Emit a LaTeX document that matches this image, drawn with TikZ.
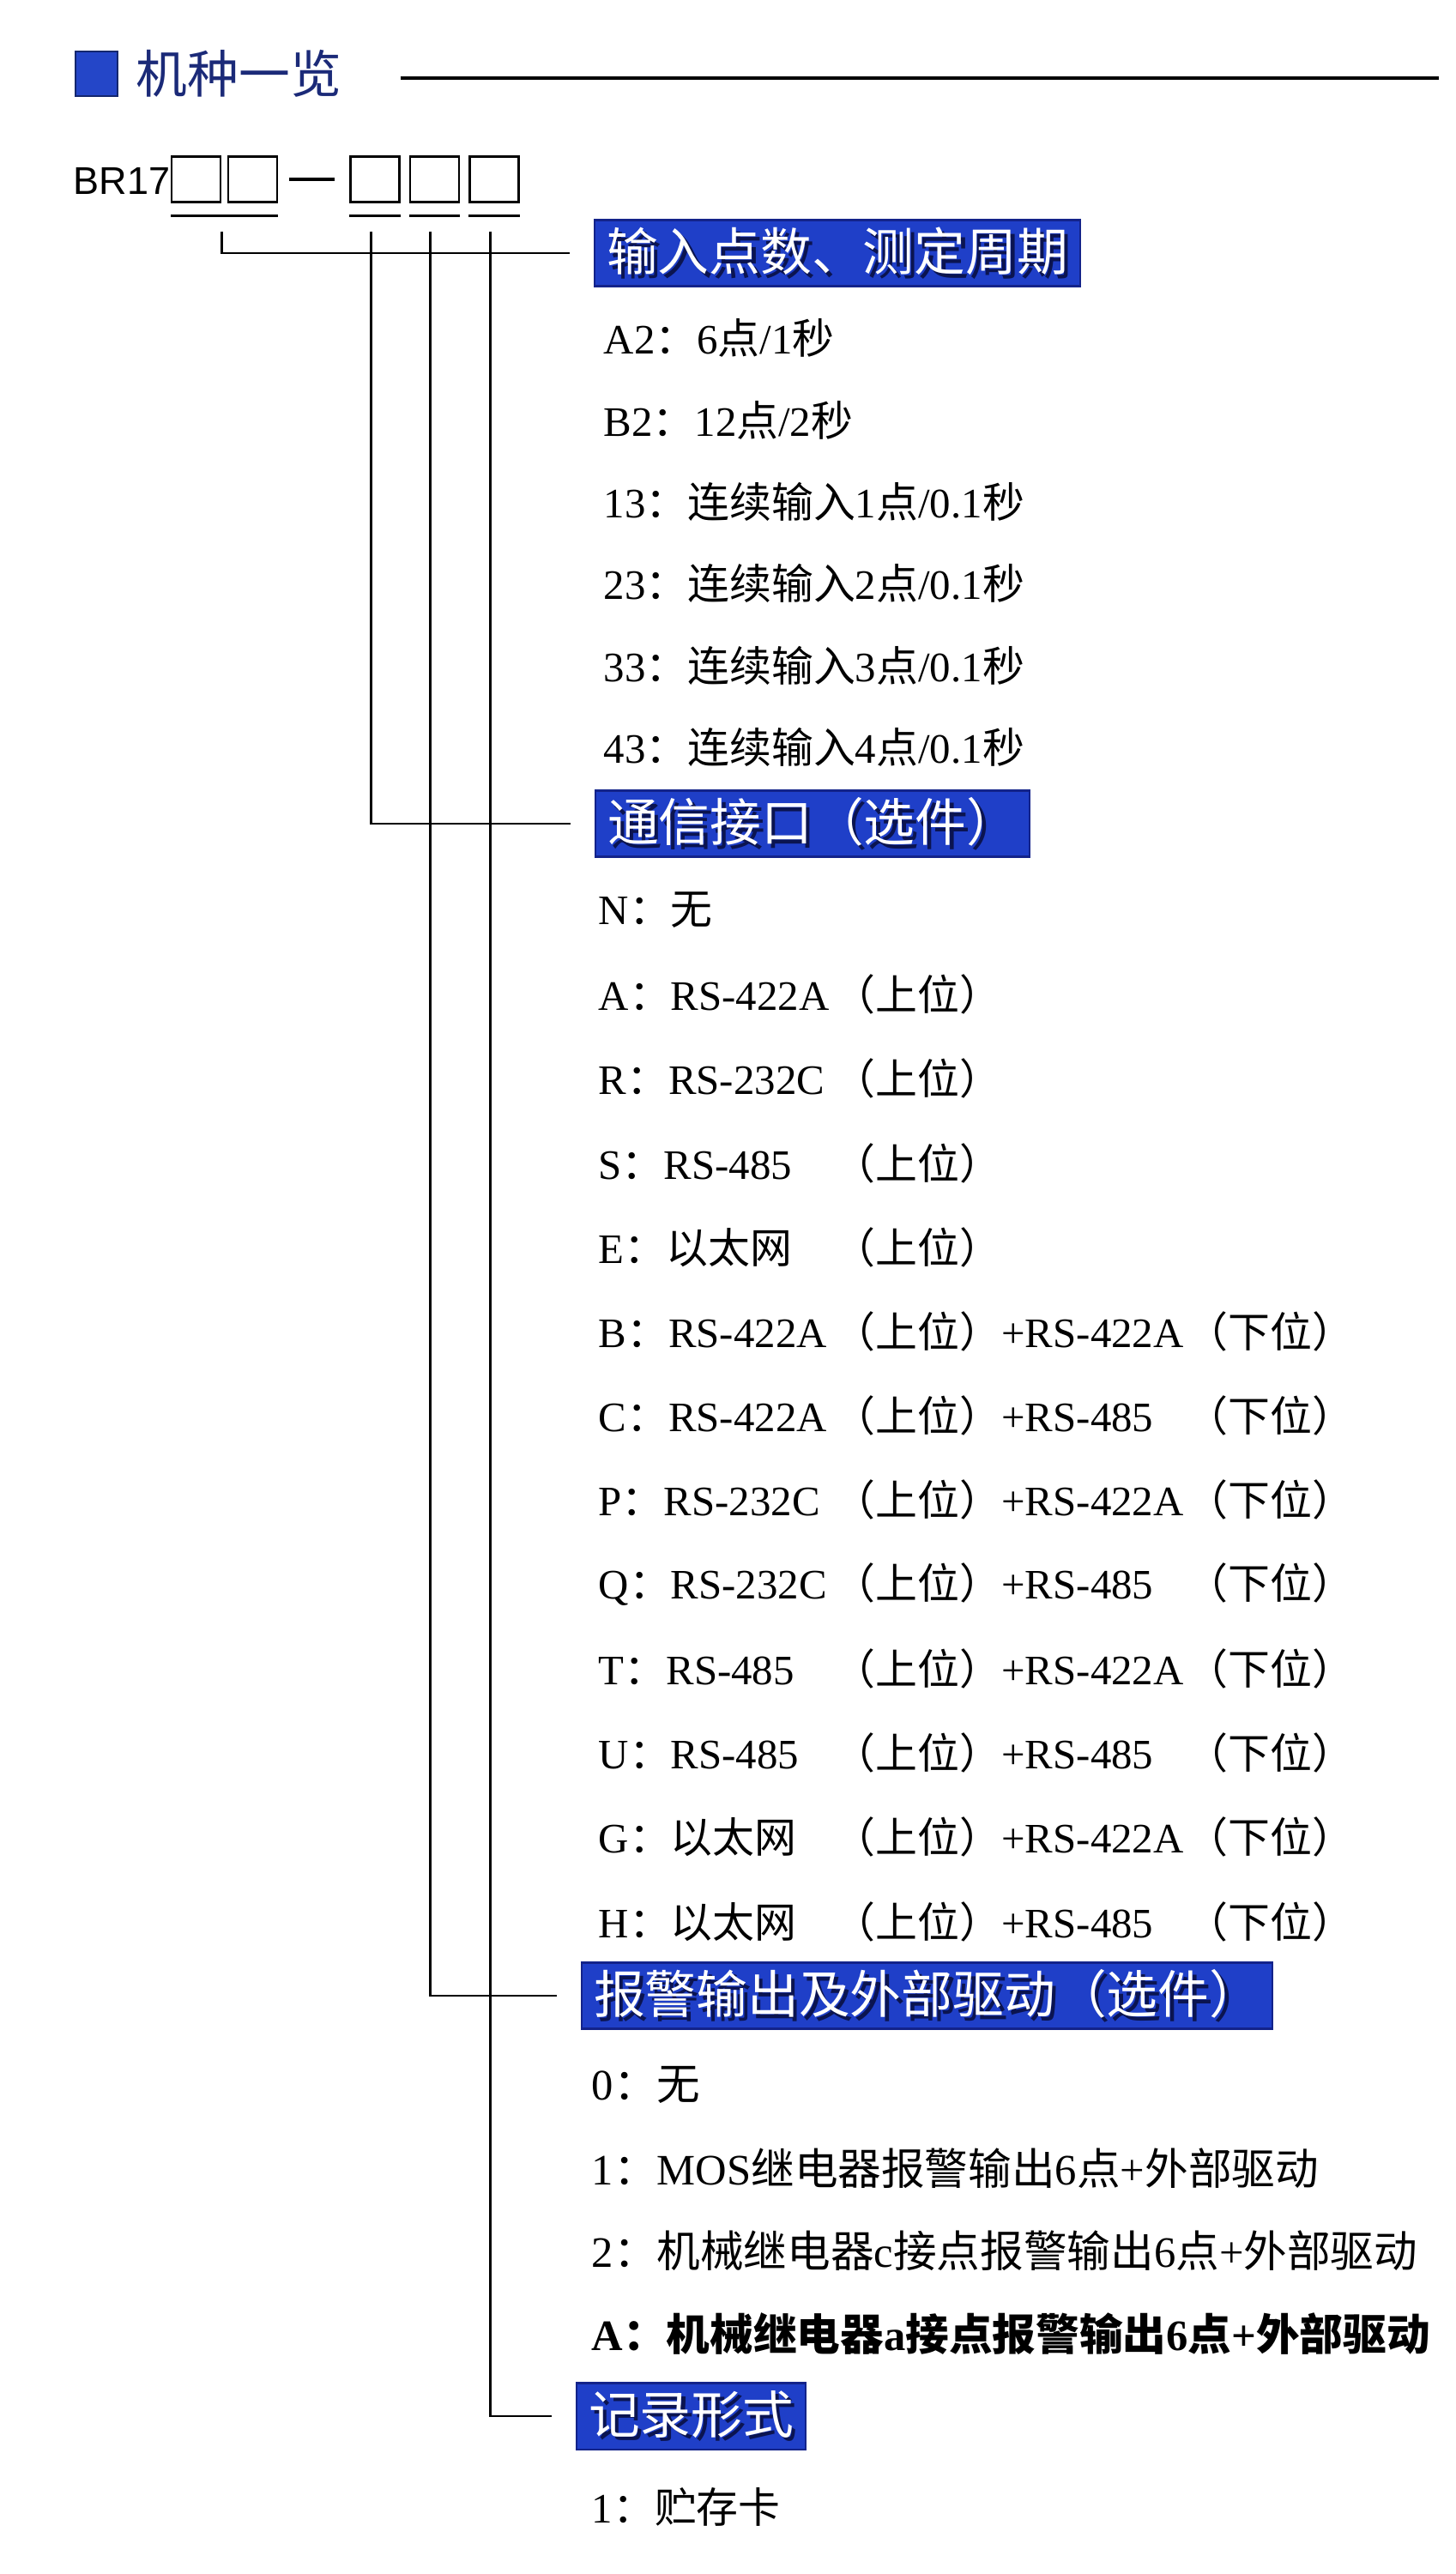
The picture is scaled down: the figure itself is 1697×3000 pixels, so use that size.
\documentclass[tikz,border=0pt]{standalone}
\usepackage{fontspec}
\setmainfont{Liberation Serif}
\setsansfont{Liberation Sans}
\newfontfamily\cjk{Noto Sans CJK SC}
\usepackage{tikz}
\usetikzlibrary{positioning, calc}
\definecolor{HdrBlue}{HTML}{1F3FC8}
\definecolor{HdrEdge}{HTML}{13238A}
\definecolor{HdrShade}{HTML}{0B1450}
\definecolor{MarkBlue}{HTML}{2446C8}
\definecolor{TitleNavy}{HTML}{1B2A78}
\newcommand{\en}[1]{{\rmfamily #1}}
\newcommand{\shadowed}[1]{\makebox[0pt][l]{\kern1.3pt\raisebox{-1.3pt}{\textcolor{HdrShade}{#1}}}#1}
\newcommand{\upcol}[1]{\makebox[2.74cm][l]{#1}}
\newcommand{\lowcol}[1]{\makebox[2.15cm][l]{#1}}
\tikzset{
  opt text/.style={anchor=west, inner sep=0pt,
                   font=\cjk\fontsize{13.9pt}{16pt}\selectfont},
  wide text/.style={opt text, font=\cjk\fontsize{14.4pt}{16pt}\selectfont},
  hdr box/.style={anchor=west, fill=HdrBlue, draw=HdrEdge, line width=0.6pt,
                  text=white, inner xsep=0.14cm, inner ysep=0pt,
                  minimum height=0.77cm, font=\cjk\fontsize{17pt}{19pt}\selectfont},
  slot box/.style={draw, line width=0.7pt, minimum width=0.57cm,
                   minimum height=0.53cm, inner sep=0pt},
  dash bar/.style={fill, minimum width=0.53cm, minimum height=0.03cm, inner sep=0pt},
  title mark/.style={anchor=north west, fill=MarkBlue, draw=MarkBlue!55!black,
                     line width=0.6pt, minimum width=0.49cm, minimum height=0.52cm,
                     inner sep=0pt},
  tie/.style={line width=0.8pt},
}

\begin{document}
\begin{tikzpicture}[x=0.01cm, y=-0.01cm]
  \useasboundingbox (0,0) rectangle (1697,3000);
  % title
  \node[title mark] (mark) at (87,59) {};
  \node[anchor=west, inner sep=0pt, text=TitleNavy,
        font=\cjk\fontsize{17pt}{19pt}\selectfont, right=0.2cm of mark] (title) {机种一览};
  \draw[tie, line width=0.9pt] ([xshift=0.68cm, yshift=-0.05cm]title.east) -- ++(1210,0);

  % model code
  \node[anchor=west, inner sep=0pt, font=\sffamily\fontsize{12.8pt}{14pt}\selectfont]
    (br) at (85,211) {BR17};
  \node[slot box, anchor=west] (b1) at (199,209) {};
  \node[slot box, right=0.06cm of b1] (b2) {};
  \node[dash bar, right=0.12cm of b2] (sep) {};
  \node[slot box, right=0.17cm of sep] (b3) {};
  \node[slot box, right=0.1cm of b3] (b4) {};
  \node[slot box, right=0.1cm of b4] (b5) {};
  \draw[tie] ([yshift=-0.15cm]b1.south west) -- ([yshift=-0.15cm]b2.south east);
  \foreach \b in {b3,b4,b5}
    \draw[tie] ([yshift=-0.15cm]\b.south west) -- ([yshift=-0.15cm]\b.south east);
  \coordinate (u1) at ($(b1.south east)!0.5!(b2.south west)+(-3,33)$);
  \foreach \b [count=\i from 2] in {b3,b4,b5}
    \coordinate (u\i) at ($(\b.south)+(-5,33)$);

  % headers
  \node[hdr box] (h1) at (692,295) {\shadowed{输入点数、测定周期}};
  \node[hdr box] (h2) at (693,960) {\shadowed{通信接口（选件）}};
  \node[hdr box] (h3) at (677,2326) {\shadowed{报警输出及外部驱动（选件）}};
  \node[hdr box] (h4) at (671,2816) {\shadowed{记录形式}};
  \foreach \i in {1,...,4}
    \draw[tie] (u\i) |- ([xshift=-0.28cm]h\i.west);

  % input points
  \foreach \txt [count=\i from 0] in {
      {\en{A2}：\en{6}点\en{/1}秒},
      {\en{B2}：\en{12}点\en{/2}秒},
      {\en{13}：连续输入\en{1}点\en{/0.1}秒},
      {\en{23}：连续输入\en{2}点\en{/0.1}秒},
      {\en{33}：连续输入\en{3}点\en{/0.1}秒},
      {\en{43}：连续输入\en{4}点\en{/0.1}秒}}
    \node[opt text] (p\i) at (703,394+95.4*\i) {\txt};

  % communication
  \foreach \txt [count=\i from 0] in {
      {\en{N}：无},
      {\upcol{\en{A}：\en{RS-422A}}（上位）},
      {\upcol{\en{R}：\en{RS-232C}}（上位）},
      {\upcol{\en{S}：\en{RS-485}}（上位）},
      {\upcol{\en{E}：以太网}（上位）},
      {\upcol{\en{B}：\en{RS-422A}}（上位）\lowcol{\en{+RS-422A}}（下位）},
      {\upcol{\en{C}：\en{RS-422A}}（上位）\lowcol{\en{+RS-485}}（下位）},
      {\upcol{\en{P}：\en{RS-232C}}（上位）\lowcol{\en{+RS-422A}}（下位）},
      {\upcol{\en{Q}：\en{RS-232C}}（上位）\lowcol{\en{+RS-485}}（下位）},
      {\upcol{\en{T}：\en{RS-485}}（上位）\lowcol{\en{+RS-422A}}（下位）},
      {\upcol{\en{U}：\en{RS-485}}（上位）\lowcol{\en{+RS-485}}（下位）},
      {\upcol{\en{G}：以太网}（上位）\lowcol{\en{+RS-422A}}（下位）},
      {\upcol{\en{H}：以太网}（上位）\lowcol{\en{+RS-485}}（下位）}}
    \node[opt text] (c\i) at (697,1061+98.2*\i) {\txt};

  % alarm output
  \foreach \txt [count=\i from 0] in {
      {\en{0}：无},
      {\en{1}：\en{MOS}继电器报警输出\en{6}点\en{+}外部驱动},
      {\en{2}：机械继电器\en{c}接点报警输出\en{6}点\en{+}外部驱动},
      {\bfseries\en{A}：机械继电器\en{a}接点报警输出\en{6}点\en{+}外部驱动}}
    \node[wide text] (a\i) at (689,2430+96.7*\i) {\txt};

  % record form
  \node[opt text] (r0) at (689,2922) {\en{1}：贮存卡};
\end{tikzpicture}
\end{document}
